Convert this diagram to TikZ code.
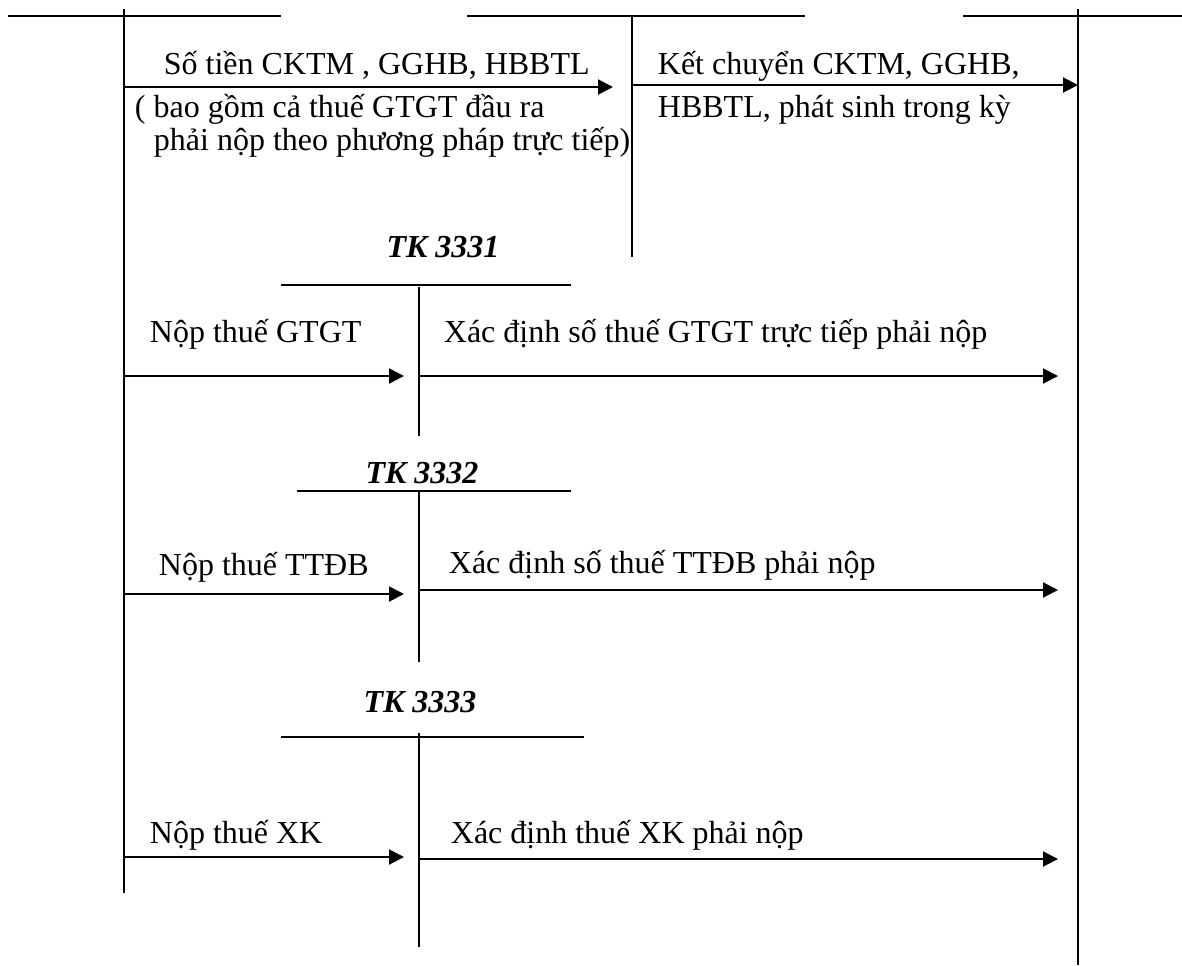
\documentclass[tikz,border=0pt]{standalone}
\usepackage{fontspec}
\setmainfont{Liberation Serif}
\usetikzlibrary{arrows.meta}
\begin{document}
\begin{tikzpicture}[x=0.5pt,y=-0.5pt,
  line width=0.9pt,
  txt/.style={anchor=base west,inner sep=0pt,font=\fontsize{16}{19}\selectfont},
  tklabel/.style={anchor=base,inner sep=0pt,font=\fontsize{16}{19}\selectfont\bfseries\itshape},
  flow/.style={-{Triangle[length=7.5pt,width=7.5pt]},line width=1pt},
  tline/.style={line width=0.9pt}]
\useasboundingbox (0,0) rectangle (1182,965);
% T-account frames
\coordinate (a1l) at (8,16);   \coordinate (a1r) at (281,16);
\coordinate (v1t) at (124,9);  \coordinate (v1b) at (124,893);
\coordinate (a2l) at (467,16); \coordinate (a2r) at (805,16);
\coordinate (v2t) at (632,16); \coordinate (v2b) at (632,257);
\coordinate (a3l) at (963,16); \coordinate (a3r) at (1182,16);
\coordinate (v3t) at (1078,9); \coordinate (v3b) at (1078,965);
\coordinate (b1l) at (281,285); \coordinate (b1r) at (571,285);
\coordinate (w1t) at (419,287); \coordinate (w1b) at (419,436);
\coordinate (b2l) at (297,491); \coordinate (b2r) at (571,491);
\coordinate (w2t) at (419,491); \coordinate (w2b) at (419,662);
\coordinate (b3l) at (281,737); \coordinate (b3r) at (584,737);
\coordinate (w3t) at (419,733); \coordinate (w3b) at (419,947);
\draw[tline] (a1l) -- (a1r);
\draw[tline] (v1t) -- (v1b);
\draw[tline] (a2l) -- (a2r);
\draw[tline] (v2t) -- (v2b);
\draw[tline] (a3l) -- (a3r);
\draw[tline] (v3t) -- (v3b);
\draw[tline] (b1l) -- (b1r);
\draw[tline] (w1t) -- (w1b);
\draw[tline] (b2l) -- (b2r);
\draw[tline] (w2t) -- (w2b);
\draw[tline] (b3l) -- (b3r);
\draw[tline] (w3t) -- (w3b);
% labels of accounts
\node[tklabel] (tk1) at (443,257) {TK 3331};
\node[tklabel] (tk2) at (422,483) {TK 3332};
\node[tklabel] (tk3) at (420,712) {TK 3333};
% texts
\node[txt] (r1a) at (163,74) {Số tiền CKTM , GGHB, HBBTL};
\node[txt] (r1b) at (134,117) {( bao gồm cả thuế GTGT đầu ra};
\node[txt] (r1c) at (153,150) {phải nộp theo phương pháp trực tiếp)};
\node[txt] (k1) at (657,74) {Kết chuyển CKTM, GGHB,};
\node[txt] (k2) at (657,117) {HBBTL, phát sinh trong kỳ};
\node[txt] (n1) at (149,342) {Nộp thuế GTGT};
\node[txt] (x1) at (443,342) {Xác định số thuế GTGT trực tiếp phải nộp};
\node[txt] (n2) at (158,575) {Nộp thuế TTĐB};
\node[txt] (x2) at (448,573) {Xác định số thuế TTĐB phải nộp};
\node[txt] (n3) at (149,843) {Nộp thuế XK};
\node[txt] (x3) at (450,843) {Xác định thuế XK phải nộp};
% arrows
\coordinate (p1s) at (124,87);  \coordinate (p1e) at (613,87);
\coordinate (p2s) at (632,85);  \coordinate (p2e) at (1078,85);
\coordinate (p3s) at (124,376); \coordinate (p3e) at (404,376);
\coordinate (p4s) at (419,376); \coordinate (p4e) at (1058,376);
\coordinate (p5s) at (124,594); \coordinate (p5e) at (404,594);
\coordinate (p6s) at (419,590); \coordinate (p6e) at (1058,590);
\coordinate (p7s) at (124,857); \coordinate (p7e) at (404,857);
\coordinate (p8s) at (419,859); \coordinate (p8e) at (1058,859);
\draw[flow] (p1s) -- (p1e);
\draw[flow] (p2s) -- (p2e);
\draw[flow] (p3s) -- (p3e);
\draw[flow] (p4s) -- (p4e);
\draw[flow] (p5s) -- (p5e);
\draw[flow] (p6s) -- (p6e);
\draw[flow] (p7s) -- (p7e);
\draw[flow] (p8s) -- (p8e);
\end{tikzpicture}
\end{document}
